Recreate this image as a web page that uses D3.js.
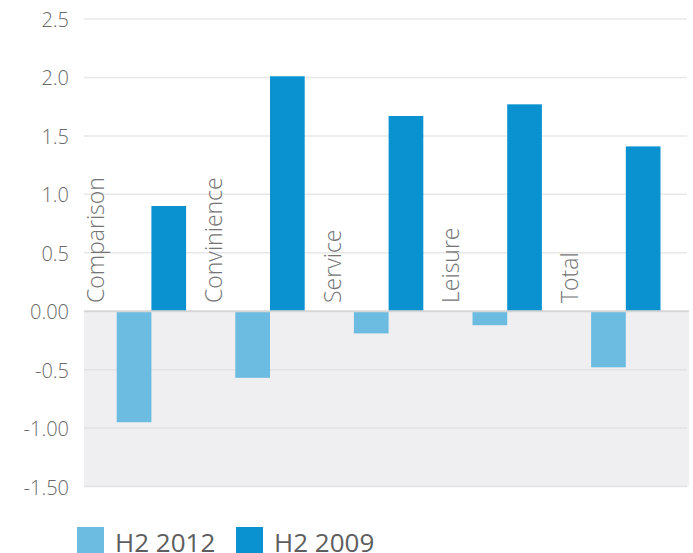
<!DOCTYPE html>
<html>
<head>
<meta charset="utf-8">
<script src="https://cdn.jsdelivr.net/npm/d3@7"></script>
<style>
  html, body { margin: 0; padding: 0; background: #fff; }
  svg { display: block; }
  text { font-family: "Open Sans", "Noto Sans", sans-serif; }
</style>
</head>
<body>
<svg id="chart" width="693" height="553"></svg>
<script>
const categories = ["Comparison", "Convinience", "Service", "Leisure", "Total"];
const seriesNames = ["H2 2012", "H2 2009"];
const h2_2012 = [-0.95, -0.57, -0.19, -0.12, -0.48];
const h2_2009 = [0.90, 2.01, 1.67, 1.77, 1.41];
const tickValues = [2.5, 2.0, 1.5, 1.0, 0.5, 0.0, -0.5, -1.0, -1.5];
const tickLabels = ["2.5", "2.0", "1.5", "1.0", "0.5", "0.00", "-0.5", "-1.00", "-1.50"];
const colors = ["#6cbbe1", "#0a92d0"];

const svg = d3.select("#chart");
const y = d3.scaleLinear().domain([-1.5, 2.5]).range([486.5, 19]);
const x = d3.scaleBand().domain(categories).range([82, 675]).padding(0);
const sub = d3.scaleBand().domain(["label", ...seriesNames]).range([0, 104.1]).padding(0);

const gridLeft = 84, gridRight = 687;

// grey negative band
svg.append("rect")
  .attr("x", gridLeft).attr("y", y(0))
  .attr("width", 689 - gridLeft).attr("height", y(-1.5) - y(0))
  .attr("fill", "#efeff1");

// gridlines
svg.append("g").selectAll("line").data(tickValues.filter(v => v !== 0)).join("line")
  .attr("x1", gridLeft).attr("x2", gridRight)
  .attr("y1", d => y(d)).attr("y2", d => y(d))
  .attr("stroke", d => d < 0 ? "#e2e2e4" : "#e8e8e8")
  .attr("stroke-width", 1.5);

// y tick labels
svg.append("g").selectAll("text").data(tickValues).join("text")
  .attr("x", 69).attr("y", d => y(d))
  .attr("dy", "0.4em")
  .attr("text-anchor", "end")
  .attr("font-size", 20)
  .attr("font-weight", 300)
  .attr("fill", "#6a6a6a")
  .text((d, i) => tickLabels[i]);

// bars
const rows = categories.map((c, i) => ({ cat: c, vals: [h2_2012[i], h2_2009[i]] }));
const groups = svg.append("g").selectAll("g").data(rows).join("g")
  .attr("transform", d => `translate(${x(d.cat)},0)`);

groups.selectAll("rect").data(d => d.vals.map((v, k) => ({ key: seriesNames[k], v, k }))).join("rect")
  .attr("x", d => sub(d.key))
  .attr("width", sub.bandwidth())
  .attr("y", d => y(Math.max(0, d.v)))
  .attr("height", d => Math.abs(y(d.v) - y(0)))
  .attr("fill", d => colors[d.k]);

// zero line
svg.append("line")
  .attr("x1", gridLeft).attr("x2", 689)
  .attr("y1", y(0)).attr("y2", y(0))
  .attr("stroke", "#d6d6d6").attr("stroke-width", 2);

// category labels (rotated)
groups.append("text")
  .attr("transform", d => `translate(${sub("label") + 21.5},303) rotate(-90)`)
  .attr("font-size", 23)
  .attr("font-weight", 300)
  .attr("fill", "#747474")
  .text(d => d.cat);

// legend
const legend = svg.append("g").selectAll("g").data(seriesNames).join("g")
  .attr("transform", (d, i) => `translate(${i === 0 ? 77 : 236},527)`);
legend.append("rect")
  .attr("width", 27).attr("height", 27)
  .attr("fill", (d, i) => colors[i]);
legend.append("text")
  .attr("x", 38).attr("y", 25)
  .attr("font-size", 26)
  .attr("fill", "#5e5e5e")
  .text(d => d);
</script>
</body>
</html>
